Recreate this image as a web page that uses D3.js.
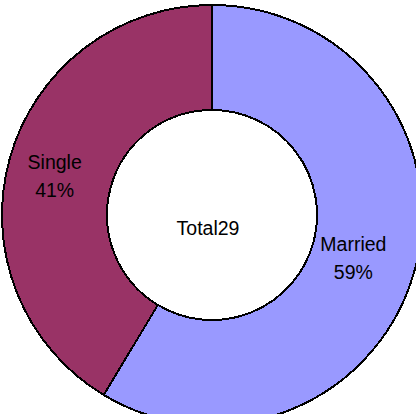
<!DOCTYPE html>
<html>
<head>
<meta charset="utf-8">
<script src="https://cdn.jsdelivr.net/npm/d3@7"></script>
<style>
  html, body { margin: 0; padding: 0; background: #fff; overflow: hidden; }
  svg { display: block; }
</style>
</head>
<body>
<div id="chart"></div>
<script>
const categories = ["Married", "Single"];
const counts = [17, 12];
const colors = ["#9999FF", "#993366"];

const w = 416, h = 414;
const cx = 212, cy = 215;
const outerR = 210, innerR = 105;
const total = d3.sum(counts);

const svg = d3.select("#chart").append("svg")
  .attr("width", w).attr("height", h);

const g = svg.append("g").attr("transform", `translate(${cx},${cy})`);

const pie = d3.pie().sort(null).value(d => d.value);
const data = pie(categories.map((c, i) => ({ name: c, value: counts[i], color: colors[i] })));

const arc = d3.arc().innerRadius(innerR).outerRadius(outerR);
const labelArc = d3.arc().innerRadius(155).outerRadius(155);

g.selectAll("path")
  .data(data)
  .enter()
  .append("path")
  .attr("d", arc)
  .attr("fill", d => d.data.color)
  .attr("stroke", "#000")
  .attr("stroke-width", 2)
  .attr("shape-rendering", "crispEdges");

// labels: name + percent
const lbl = g.selectAll("text.lbl")
  .data(data)
  .enter()
  .append("text")
  .attr("class", "lbl")
  .attr("font-family", "Liberation Sans, Arial, sans-serif")
  .attr("font-size", "19.5px")
  .attr("fill", "#000")
  .attr("text-anchor", "middle")
  .attr("transform", d => {
    const c = labelArc.centroid(d);
    return `translate(${c[0] - 8},${c[1] + 2})`;
  });

lbl.append("tspan")
  .attr("x", 0).attr("y", -7)
  .text(d => d.data.name);
lbl.append("tspan")
  .attr("x", 0).attr("y", 21)
  .text(d => Math.round(d.data.value / total * 100) + "%");

g.append("text")
  .attr("x", -4)
  .attr("y", 20)
  .attr("text-anchor", "middle")
  .attr("font-family", "Liberation Sans, Arial, sans-serif")
  .attr("font-size", "19.5px")
  .attr("fill", "#000")
  .text("Total" + total);
</script>
</body>
</html>
